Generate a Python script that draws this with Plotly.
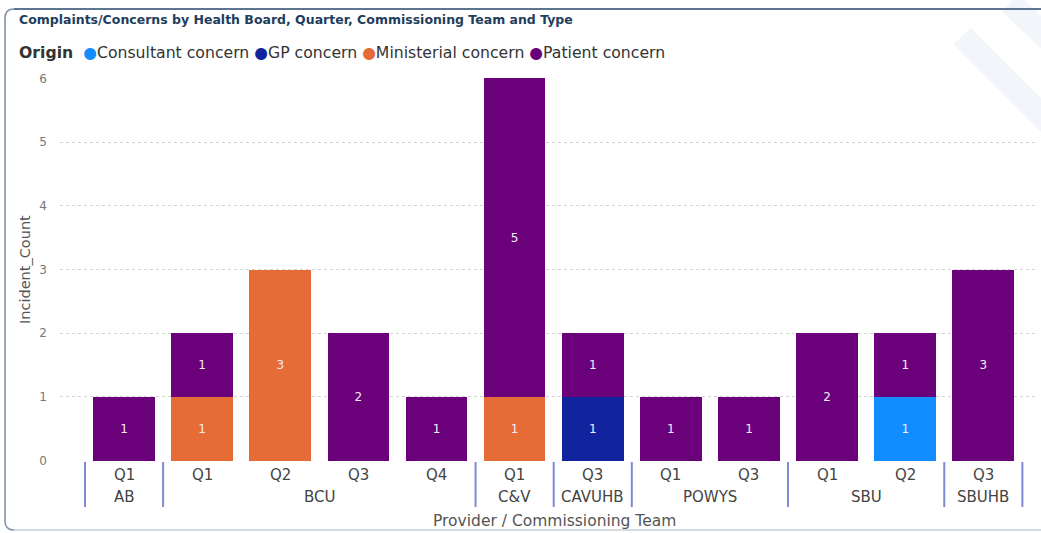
import plotly.graph_objects as go

# ---- data ----
quarters = ["Q1", "Q1", "Q2", "Q3", "Q4", "Q1", "Q3", "Q1", "Q3", "Q1", "Q2", "Q3"]
providers = ["AB", "BCU", "BCU", "BCU", "BCU", "C&V", "CAVUHB", "POWYS", "POWYS", "SBU", "SBU", "SBUHB"]
series_names = ["Consultant concern", "GP concern", "Ministerial concern", "Patient concern"]
consultant = [None, None, None, None, None, None, None, None, None, None, 1, None]
gp = [None, None, None, None, None, None, 1, None, None, None, None, None]
ministerial = [None, 1, 3, None, None, 1, None, None, None, None, None, None]
patient = [1, 1, None, 2, 1, 5, 1, 1, 1, 2, 1, 3]
series_values = [consultant, gp, ministerial, patient]
colors = ["#118DFF", "#12239E", "#E66C37", "#6B007B"]
y_ticks = [0, 1, 2, 3, 4, 5, 6]

W, H = 1041, 533
L, R, T, B = 60, 1038, 78, 461
def px2x(px): return (px - L) / (R - L)
def py2y(py): return (B - py) / (B - T)

FONT = "DejaVu Sans"
xs = list(range(len(quarters)))

fig = go.Figure()
for name, vals, col in zip(series_names, series_values, colors):
    fig.add_trace(go.Bar(
        x=xs, y=vals, name=name, marker=dict(color=col, line=dict(width=0)),
        width=0.79, text=[("" if v is None else str(v)) for v in vals],
        textposition="inside", insidetextanchor="middle",
        textfont=dict(color="#f4eef6", size=12, family=FONT),
        showlegend=False, hoverinfo="x+y+name",
    ))

ann = []
# title
ann.append(dict(text="<b>Complaints/Concerns by Health Board, Quarter, Commissioning Team and Type</b>",
                x=px2x(17), y=py2y(20), xref="paper", yref="paper", xanchor="left", yanchor="middle",
                showarrow=False, font=dict(family=FONT, size=12.5, color="#1f3d5c")))
# legend (built from series names/colors)
leg = "<b>Origin</b>  " + "".join(
    f"<span style='color:{c}'>●</span>{n} " for n, c in zip(series_names, colors))
ann.append(dict(text=leg, x=px2x(17), y=py2y(52), xref="paper", yref="paper", xanchor="left",
                yanchor="middle", showarrow=False, font=dict(family=FONT, size=15.7, color="#333333")))
# quarter labels
for x, q in zip(xs, quarters):
    ann.append(dict(text=q, x=x, y=0, xref="x", yref="paper", yshift=-14, yanchor="middle",
                    showarrow=False, font=dict(family=FONT, size=15, color="#444444")))
# group labels and separators
groups = []
for x, p in zip(xs, providers):
    if groups and groups[-1][0] == p:
        groups[-1][2] = x
    else:
        groups.append([p, x, x])
shapes = []
for p, a, b in groups:
    ann.append(dict(text=p, x=(a + b) / 2, y=0, xref="x", yref="paper", yshift=-36, yanchor="middle",
                    showarrow=False, font=dict(family=FONT, size=15, color="#444444")))
bounds = [groups[0][1] - 0.5] + [g[2] + 0.5 for g in groups]
for bx in bounds:
    shapes.append(dict(type="line", xref="x", yref="paper", x0=bx, x1=bx, y0=py2y(462), y1=py2y(507),
                       line=dict(color="#7d89d4", width=2)))
# axis titles
ann.append(dict(text="Provider / Commissioning Team", x=px2x(554), y=py2y(521), xref="paper", yref="paper",
                yanchor="middle", showarrow=False, font=dict(family=FONT, size=15.5, color="#555555")))
ann.append(dict(text="Incident_Count", x=px2x(25), y=py2y(270), xref="paper", yref="paper",
                textangle=-90, xanchor="center", yanchor="middle", showarrow=False,
                font=dict(family=FONT, size=14.5, color="#555555")))

# watermark stripes
for (x0, y0, x1, y1) in [(962, 36, 1060, 134), (1010, 3, 1060, 50)]:
    shapes.append(dict(type="line", xref="paper", yref="paper", x0=px2x(x0), y0=py2y(y0),
                       x1=px2x(x1), y1=py2y(y1), line=dict(color="rgba(236,241,248,0.7)", width=24),
                       layer="below"))
# frame
path = (f"M {px2x(14)},{py2y(530)} Q {px2x(5)},{py2y(530)} {px2x(5)},{py2y(521)} "
        f"L {px2x(5)},{py2y(18)} Q {px2x(5)},{py2y(9)} {px2x(14)},{py2y(9)} L {px2x(1045)},{py2y(9)}")
shapes.append(dict(type="path", xref="paper", yref="paper", path=path,
                   line=dict(color="#7a8ea5", width=1.5)))
shapes.append(dict(type="line", xref="paper", yref="paper", x0=px2x(14), x1=px2x(1045),
                   y0=py2y(9), y1=py2y(9), line=dict(color="#5d7591", width=2)))
shapes.append(dict(type="line", xref="paper", yref="paper", x0=px2x(14), x1=px2x(1045),
                   y0=py2y(530), y1=py2y(530), line=dict(color="#a9b6c6", width=1)))

fig.update_layout(
    width=W, height=H, barmode="stack",
    margin=dict(l=L, r=W - R, t=T, b=H - B, pad=0),
    paper_bgcolor="white", plot_bgcolor="rgba(0,0,0,0)",
    font=dict(family=FONT),
    xaxis=dict(range=[-0.82, 11.70], showticklabels=False, showgrid=False, zeroline=False,
               showline=False, ticks=""),
    yaxis=dict(range=[-0.006, 6.006], tickvals=y_ticks, showgrid=True, gridcolor="#d4d4d4",
               griddash="dot", gridwidth=1, zeroline=False, showline=False, ticks="",
               ticklabelstandoff=12, tickfont=dict(family=FONT, size=12, color="#777777")),
    annotations=ann, shapes=shapes, bargap=0.2,
)

fig.write_html("out.html")
